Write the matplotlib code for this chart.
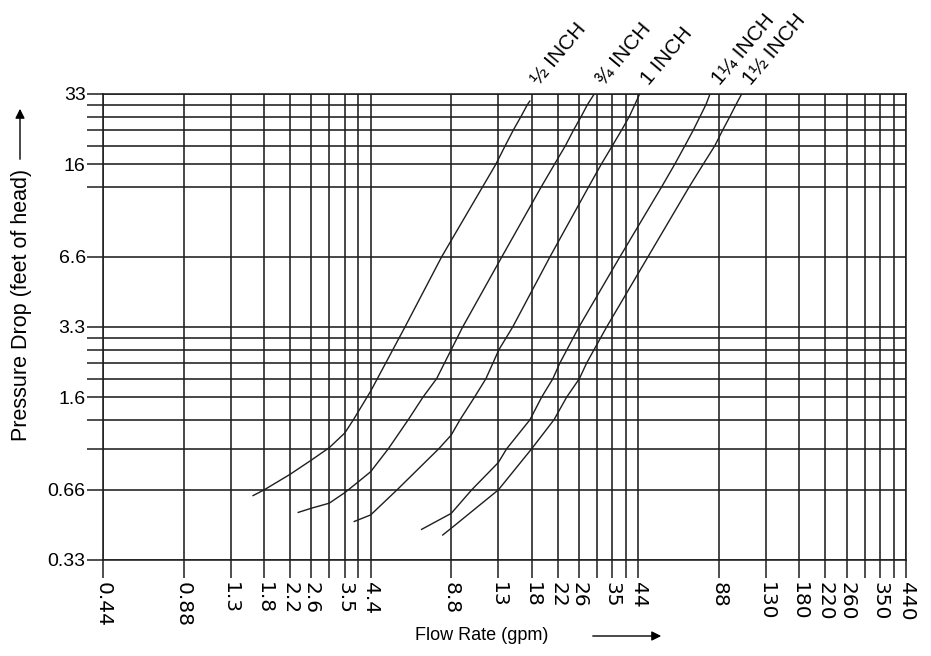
import matplotlib
matplotlib.use("Agg")
import matplotlib.pyplot as plt
from matplotlib.ticker import NullLocator
from matplotlib.patches import FancyArrowPatch

plt.rcParams["font.family"] = ["Liberation Sans", "DejaVu Sans"]

# grid lines (gpm) and their printed labels ("" = unlabeled line)
flow_ticks = [0.44, 0.88, 1.32, 1.76, 2.2, 2.64, 3.08, 3.52, 3.96, 4.4,
              8.8, 13.2, 17.6, 22, 26.4, 30.8, 35.2, 39.6, 44,
              88, 132, 176, 220, 264, 308, 352, 396, 440]
flow_labels = ["0.44", "0.88", "1.3", "1.8", "2.2", "2.6", "", "3.5", "", "4.4",
               "8.8", "13", "18", "22", "26", "", "35", "", "44",
               "88", "130", "180", "220", "260", "", "350", "", "440"]
# grid lines (feet of head)
head_ticks = [0.328, 0.656, 0.984, 1.312, 1.64, 1.969, 2.297, 2.625, 2.953, 3.281,
              6.562, 13.12, 16.4, 19.69, 22.97, 26.25, 29.53, 32.81]
head_labels = ["0.33", "0.66", "", "", "1.6", "", "", "", "", "3.3",
               "6.6", "", "16", "", "", "", "", "33"]

# pipe size curves (flow gpm, head ft)
half_x = [1.60, 1.76, 2.2, 2.64, 3.08, 3.52, 3.79, 4.4, 5.91, 8.1,
          11.53, 12.92, 14.0, 15.01, 16.03, 16.94, 17.3]
half_y = [0.62, 0.656, 0.765, 0.88, 0.995, 1.15, 1.31, 1.74, 3.28, 6.56,
          13.12, 16.4, 19.69, 22.97, 26.25, 29.53, 30.6]
three_q_x = [2.36, 2.64, 3.08, 3.52, 3.96, 4.4, 5.12, 6.08, 6.90, 7.76, 9.71,
             13.6, 19.1, 21.4, 23.5, 25.2, 26.9, 28.4, 30.1]
three_q_y = [0.525, 0.547, 0.575, 0.638, 0.711, 0.785, 0.984, 1.312, 1.64, 1.969, 3.281,
             6.562, 13.12, 16.4, 19.69, 22.97, 26.25, 29.53, 32.8]
one_x = [3.82, 4.4, 5.52, 7.9, 8.8, 9.49, 10.75, 11.86, 13.27, 14.93,
         20.57, 28.7, 32.0, 35.2, 38.1, 40.7, 42.7, 44.5]
one_y = [0.48, 0.512, 0.656, 0.984, 1.128, 1.312, 1.64, 1.969, 2.625, 3.281,
         6.562, 13.12, 16.4, 19.69, 22.97, 26.25, 29.53, 32.8]
one_q_x = [6.82, 8.8, 10.49, 13.2, 14.17, 17.32, 19.15, 21.1, 22.4, 26.4,
           37.55, 53.8, 60.2, 65.7, 70.6, 74.8, 78.7, 81.5]
one_q_y = [0.444, 0.52, 0.656, 0.86, 0.984, 1.312, 1.64, 1.969, 2.297, 3.281,
           6.562, 13.12, 16.4, 19.69, 22.97, 26.25, 29.53, 32.8]
one_h_x = [8.18, 8.8, 13.2, 17.57, 21.3, 23.75, 26.5, 28.2, 33.5,
           47.8, 68.2, 76.9, 85.0, 90.9, 96.7, 101.9, 107]
one_h_y = [0.42, 0.449, 0.656, 0.984, 1.312, 1.64, 1.969, 2.297, 3.281,
           6.562, 13.12, 16.4, 19.69, 22.97, 26.25, 29.53, 32.8]
sizes = ["\u00bd INCH", "\u00be INCH", "1 INCH", "1\u00bc INCH", "1\u00bd INCH"]

INK = "#1e1e1e"
fig = plt.figure(figsize=(9.31, 6.56), dpi=100)
ax = fig.add_axes([103/931, 96/656, 803/931, 466/656])
ax.set_xscale("log"); ax.set_yscale("log")
ax.set_xlim(0.44, 440); ax.set_ylim(0.328, 32.81)

ax.set_xticks(flow_ticks)
ax.set_xticklabels(flow_labels, rotation=270, fontsize=14.5, family="DejaVu Sans")
ax.set_yticks(head_ticks)
ax.set_yticklabels(head_labels, fontsize=14)
ax.xaxis.set_minor_locator(NullLocator())
ax.yaxis.set_minor_locator(NullLocator())
ax.tick_params(axis="x", direction="out", length=13, width=1.1, color=INK, pad=3)
ax.tick_params(axis="y", direction="out", length=11.5, width=1.1, color=INK, pad=1)
ax.grid(True, which="major", color=INK, lw=1.15)
for s in ax.spines.values():
    s.set_color(INK); s.set_linewidth(1.15)

curves = [(half_x, half_y), (three_q_x, three_q_y), (one_x, one_y),
          (one_q_x, one_q_y), (one_h_x, one_h_y)]
for (xs, ys), name in zip(curves, sizes):
    ax.plot(xs, ys, color=INK, lw=1.0, zorder=3)
    ax.annotate(name, xy=(xs[-1], 32.81), xytext=(9, 4), textcoords="offset points",
                rotation=50, rotation_mode="anchor", ha="left", va="bottom",
                fontsize=15, annotation_clip=False)

# axis titles with arrows
fig.text(22/931, 1-305/656, "Pressure Drop (feet of head)", rotation=90,
         ha="center", va="center", fontsize=15.5)
fig.add_artist(FancyArrowPatch((20/931, 1-162/656), (20/931, 1-106/656),
                               transform=fig.transFigure, arrowstyle="-|>",
                               mutation_scale=14, lw=1.0, color="black"))
fig.text(482/931, 1-636/656, "Flow Rate (gpm)", ha="center", va="center",
         fontsize=13)
fig.add_artist(FancyArrowPatch((590/931, 1-636/656), (664/931, 1-636/656),
                               transform=fig.transFigure, arrowstyle="-|>",
                               mutation_scale=14, lw=1.0, color="black"))

fig.savefig("out.png", dpi=100)
